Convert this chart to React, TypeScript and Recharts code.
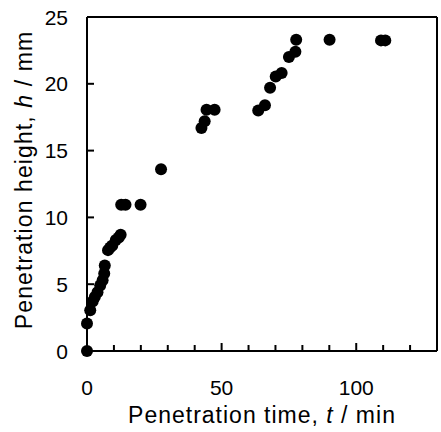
import {
  ScatterChart,
  Scatter,
  XAxis,
  YAxis,
  ReferenceLine,
  Label,
} from "recharts";

// penetration time t (min) and height h (mm)
const times = [
  0, 0, 1.2, 2.1, 2.9, 3.9, 4.9, 5.8, 6.4, 6.6, 7.8, 8.6, 9.4, 10.7, 11.8,
  12.5, 12.7, 14.3, 19.9, 27.5, 42.5, 43.7, 44.4, 47.4, 63.6, 66.1, 68.0,
  70.1, 72.3, 75.0, 77.4, 77.7, 90.1, 109.2, 110.8,
];
const heights = [
  0, 2.05, 3.05, 3.7, 4.05, 4.4, 4.9, 5.3, 5.8, 6.4, 7.55, 7.75, 7.9, 8.3,
  8.5, 8.7, 10.95, 10.95, 10.95, 13.6, 16.7, 17.2, 18.05, 18.05, 18.0, 18.4,
  19.7, 20.55, 20.8, 22.0, 22.4, 23.3, 23.3, 23.25, 23.25,
];

const xTicks = [0, 10, 20, 30, 40, 50, 60, 70, 80, 90, 100, 110, 120];
const xLabels = [0, 50, 100];
const yTicks = [0, 5, 10, 15, 20, 25];

const data = times.map((t, i) => ({ t, h: heights[i] }));

const FONT = "'Liberation Sans', Arial, sans-serif";

function XTick(props: any) {
  const { x, y, payload } = props;
  const v = payload.value;
  const major = xLabels.includes(v);
  return (
    <g>
      {v !== 0 && (
        <line x1={x} x2={x} y1={y} y2={y - (major ? 8 : 6)} stroke="#000" strokeWidth={2} />
      )}
      {major && (
        <text x={x} y={y + 44} textAnchor="middle" fontSize={21} fontFamily={FONT} fill="#000">
          {v}
        </text>
      )}
    </g>
  );
}

function YTick(props: any) {
  const { x, y, payload } = props;
  const v = payload.value;
  return (
    <g>
      {v !== 0 && v !== 25 && (
        <line x1={x} x2={x + 7} y1={y} y2={y} stroke="#000" strokeWidth={2} />
      )}
      <text x={x - 19} y={y} dy="0.36em" textAnchor="end" fontSize={21} fontFamily={FONT} fill="#000">
        {v}
      </text>
    </g>
  );
}

function XTitle(props: any) {
  const vb = props.viewBox;
  return (
    <text
      x={vb.x + vb.width / 2}
      y={vb.y + 72}
      textAnchor="middle"
      fontSize={23}
      letterSpacing={1}
      fontFamily={FONT}
      fill="#000"
    >
      Penetration time, <tspan fontStyle="italic">t</tspan> / min
    </text>
  );
}

function YTitle() {
  const cy = 180;
  const cx = 32;
  return (
    <text
      x={cx}
      y={cy}
      transform={`rotate(-90 ${cx} ${cy})`}
      textAnchor="middle"
      fontSize={23}
      letterSpacing={1.1}
      fontFamily={FONT}
      fill="#000"
    >
      Penetration height, <tspan fontStyle="italic">h</tspan> / mm
    </text>
  );
}

const Dot = (p: any) => <circle cx={p.cx} cy={p.cy} r={6} fill="#000" />;

export default function App() {
  return (
    <div style={{ position: "absolute", left: 0, top: 0, background: "#fff" }}>
      <ScatterChart
        width={441}
        height={432}
        margin={{ top: 17, right: 4, bottom: 0, left: 0 }}
      >
        <XAxis
          type="number"
          dataKey="t"
          domain={[0, 130]}
          ticks={xTicks}
          interval={0}
          tickSize={0}
          tickMargin={0}
          tickLine={false}
          tick={<XTick />}
          height={81}
          axisLine={{ stroke: "#000", strokeWidth: 2 }}
        >
          <Label content={<XTitle />} />
        </XAxis>
        <YAxis
          type="number"
          dataKey="h"
          domain={[0, 25]}
          ticks={yTicks}
          interval={0}
          tickSize={0}
          tickMargin={0}
          tickLine={false}
          tick={<YTick />}
          width={87}
          axisLine={{ stroke: "#000", strokeWidth: 2 }}
        >
          <Label content={<YTitle />} />
        </YAxis>
        <ReferenceLine y={25} stroke="#000" strokeWidth={2} />
        <ReferenceLine x={130} stroke="#000" strokeWidth={2} />
        <Scatter data={data} shape={Dot} isAnimationActive={false} />
      </ScatterChart>
    </div>
  );
}
